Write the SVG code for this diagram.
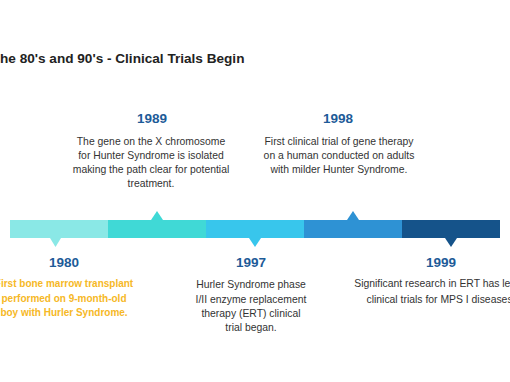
<svg xmlns="http://www.w3.org/2000/svg" width="510" height="382" viewBox="0 0 510 382">
<style>
.title{font-family:"Liberation Sans",Arial,sans-serif;font-weight:bold;font-size:13.6px;fill:#222}
.yr{font-family:"Liberation Sans",Arial,sans-serif;font-weight:bold;font-size:13.5px;fill:#1d5b98;text-anchor:middle}
.tx{font-family:"Liberation Sans",Arial,sans-serif;font-size:10.4px;fill:#333;text-anchor:middle}
.gold{font-family:"Liberation Sans",Arial,sans-serif;font-weight:bold;font-size:10px;fill:#f6b826;text-anchor:middle}
</style>
<rect width="510" height="382" fill="#ffffff"/>
<text class="title" x="0" y="63">he 80's and 90's - Clinical Trials Begin</text>
<g id="timeline">
<rect x="10" y="220" width="98" height="18" fill="#8ae8e6"/>
<rect x="108" y="220" width="98" height="18" fill="#40d9d6"/>
<rect x="206" y="220" width="98" height="18" fill="#38c6ec"/>
<rect x="304" y="220" width="98" height="18" fill="#2e92d4"/>
<rect x="402" y="220" width="98" height="18" fill="#15538a"/>
<polygon points="50,238 61,238 55.5,247" fill="#8ae8e6"/>
<polygon points="151,220 163,220 157,211" fill="#40d9d6"/>
<polygon points="249,238 261,238 255,247" fill="#38c6ec"/>
<polygon points="347,220 359,220 353,211" fill="#2e92d4"/>
<polygon points="445,238 457,238 451,247" fill="#15538a"/>
</g>
<g id="e1989">
<text class="yr" x="152" y="123">1989</text>
<text class="tx" x="151" y="145">The gene on the X chromosome</text>
<text class="tx" x="151" y="159">for Hunter Syndrome is isolated</text>
<text class="tx" x="151" y="173">making the path clear for potential</text>
<text class="tx" x="151" y="187">treatment.</text>
</g>
<g id="e1998">
<text class="yr" x="338" y="123">1998</text>
<text class="tx" x="339" y="145">First clinical trial of gene therapy</text>
<text class="tx" x="339" y="159">on a human conducted on adults</text>
<text class="tx" x="339" y="173">with milder Hunter Syndrome.</text>
</g>
<g id="e1980">
<text class="yr" x="64" y="267">1980</text>
<text class="gold" x="64" y="287">First bone marrow transplant</text>
<text class="gold" x="64" y="302">performed on 9-month-old</text>
<text class="gold" x="64" y="316">boy with Hurler Syndrome.</text>
</g>
<g id="e1997">
<text class="yr" x="251" y="267">1997</text>
<text class="tx" x="251" y="288">Hurler Syndrome phase</text>
<text class="tx" x="251" y="303">I/II enzyme replacement</text>
<text class="tx" x="251" y="317">therapy (ERT) clinical</text>
<text class="tx" x="251" y="331">trial began.</text>
</g>
<g id="e1999">
<text class="yr" x="441" y="267">1999</text>
<text class="tx" x="441" y="287">Significant research in ERT has led to</text>
<text class="tx" x="441" y="303">clinical trials for MPS I diseases.</text>
</g>
</svg>
